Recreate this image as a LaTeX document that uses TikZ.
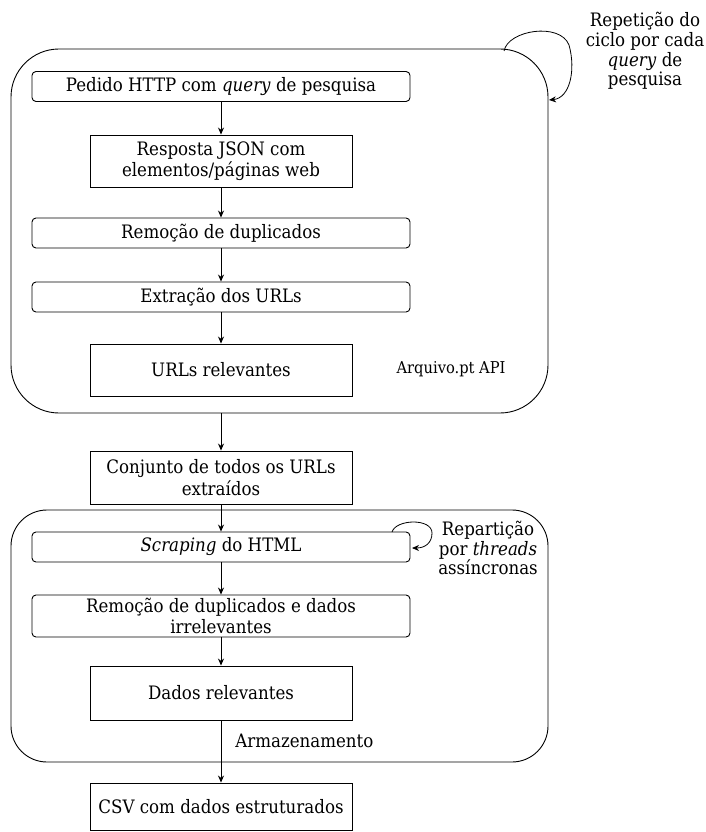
\documentclass[tikz,border=0pt]{standalone}
\usepackage{fontspec}
\setmainfont{DejaVu Serif Condensed}
\usetikzlibrary{arrows.meta}
\begin{document}
\begin{tikzpicture}[x=1pt,y=-1pt,
  every node/.style={font=\fontsize{18.5}{21.5}\selectfont, align=center, inner sep=0pt},
  rbox/.style={draw, line width=0.9pt, rounded corners=4pt},
  sbox/.style={draw, line width=0.9pt},
  arr/.style={-{Stealth[length=7pt,width=6pt]}, line width=0.8pt},
  lbl/.style={font=\fontsize{18.5}{19.8}\selectfont},
  small/.style={font=\fontsize{16.3}{18}\selectfont}]
\useasboundingbox (0,0) rectangle (706,832);
% groups
\draw[line width=0.9pt, rounded corners=48pt] (11,49) rectangle (548,413);
\draw[line width=0.9pt, rounded corners=36pt] (11,510) rectangle (548,762);
\coordinate (g1b) at (221,413);
% group 1 nodes
\node[rbox, minimum width=378pt, minimum height=30pt] (pedido) at (221,86.5) {Pedido HTTP com \textit{query} de pesquisa};
\node[sbox, minimum width=262pt, minimum height=52pt] (resp) at (221,161) {Resposta JSON com\\elementos/páginas web};
\node[rbox, minimum width=378pt, minimum height=30pt] (remo) at (221,233) {Remoção de duplicados};
\node[rbox, minimum width=378pt, minimum height=30pt] (extr) at (221,297) {Extração dos URLs};
\node[sbox, minimum width=262pt, minimum height=52pt] (urls) at (221,370) {URLs relevantes};
\node[small] (api) at (451,369) {Arquivo.pt API};
\node[lbl] (rep) at (645,51) {Repetição do\\ciclo por cada\\\textit{query} de\\pesquisa};
% between
\node[sbox, minimum width=262pt, minimum height=53pt] (conj) at (221,477.5) {Conjunto de todos os URLs\\extraídos};
% group 2 nodes
\node[rbox, minimum width=378pt, minimum height=30pt] (scrap) at (221,547) {\textit{Scraping} do HTML};
\node[lbl] (repart) at (488,548) {Repartição\\por \textit{threads}\\assíncronas};
\node[rbox, minimum width=378pt, minimum height=42pt] (remo2) at (221,616) {Remoção de duplicados e dados\\irrelevantes};
\node[sbox, minimum width=262pt, minimum height=54pt] (dados) at (221,693) {Dados relevantes};
\node[sbox, minimum width=262pt, minimum height=47pt] (csv) at (221,806.5) {CSV com dados estruturados};
% connectors
\draw[arr] (pedido) -- (resp);
\draw[arr] (resp) -- (remo);
\draw[arr] (remo) -- (extr);
\draw[arr] (extr) -- (urls);
\draw[arr] (g1b) -- (conj);
\draw[arr] (conj) -- (scrap);
\draw[arr] (scrap) -- (remo2);
\draw[arr] (remo2) -- (dados);
\draw[arr] (dados) -- node[pos=0.33, right=14pt, anchor=west] {Armazenamento} (csv);
% loops
\coordinate (l1s) at (504,51);
\coordinate (l1e) at (549,100);
\draw[arr] (l1s) .. controls (508,30) and (560,22) .. (569,45) .. controls (576,70) and (570,98) .. (l1e);
\coordinate (l2s) at (392,532);
\coordinate (l2e) at (412,548);
\draw[arr] (l2s) .. controls (396,519) and (432,518) .. (432,533) .. controls (432,543) and (425,548) .. (l2e);
\end{tikzpicture}
\end{document}
